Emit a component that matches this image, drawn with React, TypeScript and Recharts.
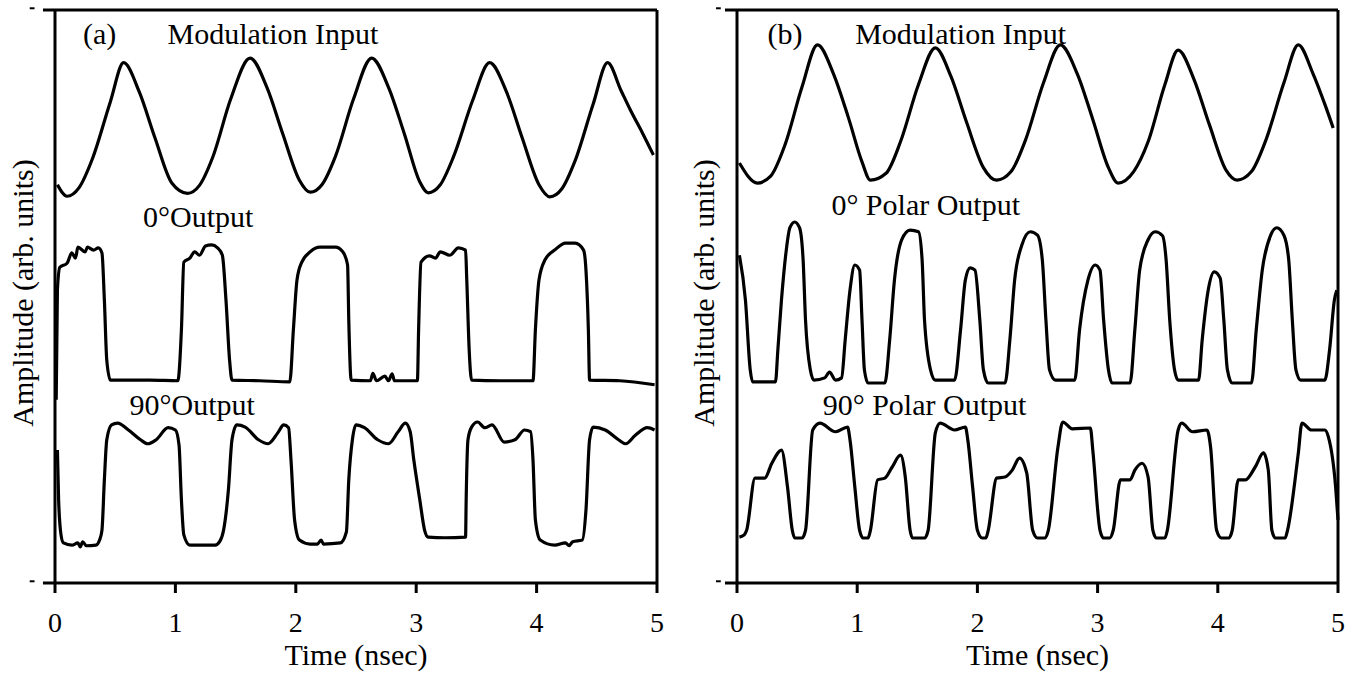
import React from "react";
import { LineChart, Line, XAxis, YAxis, ReferenceLine, ReferenceDot } from "recharts";

const FONT = '"Liberation Serif", "Times New Roman", Times, serif';

type Pair = [number, number];

// time axis (nsec)
const timeTicks = [0, 1, 2, 3, 4, 5];

// (a) traces: [time ns, amplitude arb. units]
const leftModulation: Pair[] = [
  [0.02, 69.5], [0.1, 67.5], [0.2, 69.0], [0.31, 74.0], [0.46, 84.0], [0.57, 90.8], [0.7, 85.7], [0.83, 77.7], [0.97, 69.8],
  [1.1, 68.0], [1.2, 69.4], [1.31, 74.3], [1.46, 84.5], [1.62, 91.6], [1.76, 86.5], [1.89, 78.5], [2.03, 70.3],
  [2.12, 68.2], [2.22, 69.6], [2.33, 74.5], [2.48, 84.5], [2.63, 91.6], [2.77, 86.5], [2.9, 78.5], [3.03, 70.0],
  [3.1, 68.1], [3.2, 69.5], [3.31, 74.4], [3.47, 84.3], [3.61, 90.8], [3.75, 85.7], [3.88, 77.7], [4.02, 69.5],
  [4.11, 67.4], [4.21, 68.8], [4.32, 73.7], [4.47, 83.6], [4.59, 90.8], [4.7, 86.0], [4.78, 82.5], [4.88, 78.5], [4.97, 74.7],
];

const left0Output: Pair[] = [
  [0.01, 32.0], [0.02, 51.1], [0.04, 55.1], [0.1, 55.8], [0.14, 57.6], [0.17, 56.7], [0.19, 58.6], [0.25, 57.8], [0.27, 58.6],
  [0.32, 58.1], [0.36, 58.5], [0.39, 57.6], [0.41, 49.4], [0.43, 38.9], [0.46, 35.4], [0.79, 35.4], [1.02, 35.3],
  [1.05, 44.2], [1.07, 56.0], [1.12, 56.7], [1.16, 57.8], [1.2, 57.2], [1.25, 58.8], [1.3, 59.0], [1.35, 58.5], [1.39, 57.2],
  [1.42, 49.4], [1.45, 38.9], [1.47, 35.4], [1.7, 35.3], [1.95, 35.1], [1.98, 44.2], [2.01, 52.9], [2.05, 56.0], [2.12, 57.8],
  [2.2, 58.6], [2.33, 58.6], [2.39, 57.8], [2.43, 55.5], [2.44, 45.9], [2.46, 35.4], [2.62, 35.3], [2.64, 36.6], [2.67, 35.3],
  [2.74, 36.1], [2.77, 35.3], [2.8, 36.5], [2.82, 35.3], [3.01, 35.3], [3.02, 44.2], [3.04, 56.0], [3.11, 57.1], [3.16, 56.7],
  [3.2, 57.8], [3.28, 57.2], [3.35, 58.5], [3.41, 58.1], [3.42, 52.9], [3.44, 40.7], [3.46, 35.4], [3.7, 35.3], [3.97, 35.3],
  [3.99, 44.2], [4.02, 52.9], [4.07, 56.4], [4.15, 58.1], [4.24, 59.3], [4.32, 59.3], [4.39, 58.1], [4.41, 54.6], [4.43, 44.2],
  [4.44, 35.4], [4.69, 35.3], [4.98, 34.6],
];

const left90Output: Pair[] = [
  [0.02, 23.2], [0.03, 14.5], [0.05, 8.4], [0.07, 7.0], [0.14, 6.6], [0.19, 7.0], [0.21, 6.3], [0.23, 7.2], [0.26, 6.5],
  [0.34, 6.6], [0.37, 7.5], [0.39, 9.2], [0.41, 18.0], [0.43, 25.0], [0.47, 27.6], [0.52, 27.9], [0.61, 26.7], [0.71, 25.0],
  [0.77, 24.3], [0.84, 25.0], [0.94, 27.1], [1.0, 26.7], [1.03, 24.1], [1.05, 14.5], [1.07, 8.4], [1.12, 6.6], [1.33, 6.6],
  [1.37, 7.3], [1.4, 9.2], [1.44, 16.2], [1.47, 25.0], [1.51, 27.6], [1.58, 27.2], [1.69, 25.0], [1.77, 24.3], [1.85, 26.2],
  [1.9, 27.6], [1.94, 27.1], [1.96, 21.5], [1.99, 11.0], [2.03, 7.5], [2.12, 6.8], [2.18, 6.8], [2.21, 7.5], [2.23, 6.8],
  [2.37, 7.0], [2.42, 8.9], [2.44, 18.0], [2.47, 25.0], [2.5, 27.6], [2.57, 27.1], [2.68, 25.0], [2.77, 24.3], [2.85, 26.4],
  [2.91, 27.9], [2.95, 26.4], [2.98, 21.5], [3.03, 14.5], [3.07, 9.2], [3.1, 8.0], [3.24, 7.9], [3.41, 8.0], [3.415, 14.5],
  [3.43, 25.0], [3.46, 27.2], [3.51, 28.1], [3.57, 27.1], [3.63, 27.6], [3.73, 24.6], [3.82, 25.0], [3.9, 26.7], [3.95, 26.4],
  [3.97, 21.5], [3.99, 11.0], [4.03, 7.5], [4.15, 6.6], [4.24, 7.0], [4.27, 6.5], [4.3, 7.2], [4.38, 7.5], [4.41, 12.7],
  [4.44, 25.0], [4.47, 27.2], [4.57, 26.7], [4.68, 25.0], [4.74, 24.3], [4.82, 25.8], [4.92, 27.1], [4.98, 26.7],
];

// (b) traces
const rightModulation: Pair[] = [
  [0.02, 73.3], [0.17, 69.8], [0.28, 71.0], [0.4, 76.5], [0.54, 86.5], [0.67, 93.9], [0.8, 89.0], [0.93, 81.0], [1.04, 73.5],
  [1.11, 70.3], [1.24, 71.5], [1.36, 77.0], [1.51, 87.0], [1.65, 93.4], [1.78, 88.4], [1.91, 80.4], [2.05, 72.5],
  [2.16, 70.3], [2.28, 71.8], [2.4, 77.3], [2.55, 87.3], [2.69, 93.9], [2.83, 88.9], [2.96, 80.9], [3.09, 72.5],
  [3.17, 69.8], [3.3, 71.8], [3.42, 77.0], [3.56, 87.0], [3.67, 93.0], [3.8, 88.0], [3.93, 80.0], [4.07, 72.0],
  [4.16, 70.3], [4.28, 71.8], [4.4, 77.3], [4.55, 87.3], [4.67, 93.9], [4.79, 89.0], [4.9, 83.0], [4.96, 79.4],
];

const right0Polar: Pair[] = [
  [0.02, 57.2], [0.07, 49.4], [0.11, 37.2], [0.13, 35.1], [0.32, 35.1], [0.34, 40.7], [0.37, 49.4], [0.41, 58.1], [0.44, 62.0],
  [0.48, 63.0], [0.52, 62.0], [0.55, 56.4], [0.57, 45.9], [0.61, 37.2], [0.64, 35.4], [0.73, 35.8], [0.77, 36.8], [0.82, 35.4],
  [0.87, 35.8], [0.9, 42.4], [0.94, 51.1], [0.98, 55.5], [1.02, 54.6], [1.04, 45.9], [1.06, 37.2], [1.09, 34.9], [1.23, 34.9],
  [1.27, 42.4], [1.31, 52.9], [1.37, 59.9], [1.44, 61.6], [1.51, 61.3], [1.54, 56.4], [1.56, 45.9], [1.61, 37.2], [1.65, 35.4],
  [1.81, 35.4], [1.86, 44.2], [1.9, 52.9], [1.94, 55.0], [1.98, 54.6], [2.02, 45.9], [2.05, 37.2], [2.09, 34.9], [2.23, 34.9],
  [2.27, 42.4], [2.31, 52.9], [2.37, 59.0], [2.44, 61.3], [2.5, 60.7], [2.54, 56.4], [2.57, 45.9], [2.6, 37.2], [2.65, 35.4],
  [2.81, 35.4], [2.85, 44.2], [2.92, 52.9], [2.98, 55.5], [3.02, 54.6], [3.05, 45.9], [3.09, 37.2], [3.12, 34.9], [3.27, 34.9],
  [3.31, 44.2], [3.35, 54.6], [3.42, 59.9], [3.48, 61.3], [3.54, 60.6], [3.57, 56.4], [3.6, 45.9], [3.64, 37.2], [3.67, 35.4],
  [3.84, 35.4], [3.87, 42.4], [3.92, 51.1], [3.97, 54.3], [4.02, 53.2], [4.05, 45.9], [4.08, 37.2], [4.12, 34.9], [4.28, 34.9],
  [4.32, 44.2], [4.37, 54.6], [4.44, 60.7], [4.49, 62.0], [4.55, 60.7], [4.59, 56.4], [4.62, 45.9], [4.65, 37.2], [4.69, 35.4],
  [4.89, 35.4], [4.93, 40.7], [4.97, 49.4], [4.99, 51.1],
];

const right90Polar: Pair[] = [
  [0.02, 8.0], [0.06, 8.4], [0.08, 9.2], [0.15, 18.3], [0.23, 18.3], [0.29, 20.9], [0.37, 23.2], [0.42, 16.8], [0.46, 9.2],
  [0.48, 7.85], [0.54, 7.85], [0.57, 9.2], [0.63, 26.7], [0.69, 27.9], [0.82, 26.4], [0.92, 27.2], [0.94, 25.0], [0.98, 16.8],
  [1.02, 9.2], [1.05, 7.85], [1.09, 7.85], [1.11, 9.2], [1.17, 18.0], [1.23, 18.3], [1.29, 20.2], [1.36, 22.3], [1.4, 18.5],
  [1.44, 9.2], [1.46, 7.85], [1.56, 7.85], [1.59, 9.2], [1.65, 26.2], [1.69, 27.9], [1.81, 26.7], [1.9, 27.2], [1.92, 25.0],
  [1.96, 16.8], [2.0, 9.2], [2.04, 7.85], [2.07, 7.85], [2.09, 9.2], [2.16, 18.3], [2.23, 18.5], [2.29, 19.7], [2.35, 21.8],
  [2.41, 19.2], [2.46, 9.2], [2.5, 7.85], [2.56, 7.85], [2.59, 9.2], [2.67, 23.7], [2.71, 28.1], [2.79, 26.9], [2.94, 27.05],
  [2.96, 23.2], [3.02, 9.2], [3.05, 7.85], [3.1, 7.85], [3.13, 9.2], [3.19, 18.0], [3.27, 18.0], [3.31, 19.7], [3.37, 20.9],
  [3.42, 18.5], [3.46, 9.2], [3.49, 7.85], [3.56, 7.85], [3.58, 9.2], [3.67, 26.7], [3.7, 27.9], [3.79, 26.4], [3.91, 26.7],
  [3.94, 23.7], [3.99, 9.2], [4.03, 7.85], [4.09, 7.85], [4.12, 9.2], [4.17, 18.0], [4.23, 18.0], [4.31, 20.2], [4.38, 22.7],
  [4.42, 19.7], [4.45, 9.2], [4.48, 7.85], [4.56, 7.85], [4.58, 9.2], [4.67, 22.7], [4.7, 27.9], [4.78, 26.7], [4.89, 26.7],
  [4.92, 25.5], [4.98, 16.8], [5.0, 11.0],
];

// annotation text with its anchor [time, amplitude]
const leftNotes: { text: string; at: Pair }[] = [
  { text: "(a)", at: [0.37, 96.0] },
  { text: "Modulation Input", at: [1.81, 96.0] },
  { text: "0°Output", at: [1.19, 64.0] },
  { text: "90°Output", at: [1.14, 31.1] },
];
const rightNotes: { text: string; at: Pair }[] = [
  { text: "(b)", at: [0.4, 96.0] },
  { text: "Modulation Input", at: [1.86, 96.0] },
  { text: "0° Polar Output", at: [1.57, 66.0] },
  { text: "90° Polar Output", at: [1.56, 31.1] },
];

const toPoints = (arr: Pair[]) => arr.map(([t, v]) => ({ t, v }));

interface PanelProps {
  left: number;
  width: number;
  marginLeft: number;
  marginRight: number;
  series: Pair[][];
  notes: { text: string; at: Pair }[];
  titleAt: number;
  dashFrom: number;
}

const Panel: React.FC<PanelProps> = ({ left, width, marginLeft, marginRight, series, notes, titleAt, dashFrom }) => {
  const frame = { stroke: "#000", strokeWidth: 3, ifOverflow: "visible" as const };
  return (
    <div style={{ position: "absolute", left, top: 0 }}>
      <LineChart width={width} height={673} margin={{ top: 10, right: marginRight, bottom: 6, left: marginLeft }}>
        <XAxis
          dataKey="t"
          type="number"
          domain={[0, 5]}
          ticks={timeTicks}
          axisLine={false}
          tickSize={10}
          tickMargin={19}
          height={84}
          tickLine={{ stroke: "#000", strokeWidth: 3 }}
          tick={{ fill: "#000", fontSize: 28, fontFamily: FONT }}
          label={{ value: "Time (nsec)", position: "insideBottom", offset: 2, fontSize: 30, fontFamily: FONT, fill: "#000" }}
        />
        <YAxis type="number" domain={[0, 100]} hide />
        <ReferenceLine {...frame} segment={[{ x: -0.1, y: 100 }, { x: 5, y: 100 }]} />
        <ReferenceLine {...frame} segment={[{ x: -0.1, y: 0 }, { x: 5, y: 0 }]} />
        <ReferenceLine {...frame} segment={[{ x: 0, y: 0 }, { x: 0, y: 100 }]} />
        <ReferenceLine {...frame} segment={[{ x: 5, y: 0 }, { x: 5, y: 100 }]} />
        <ReferenceLine {...frame} strokeWidth={2} segment={[{ x: dashFrom, y: 100.3 }, { x: dashFrom + 0.04, y: 100.3 }]} />
        <ReferenceLine {...frame} strokeWidth={2} segment={[{ x: dashFrom, y: 0.3 }, { x: dashFrom + 0.04, y: 0.3 }]} />
        {series.map((s, i) => (
          <Line
            key={i}
            data={toPoints(s)}
            dataKey="v"
            type="monotone"
            stroke="#000"
            strokeWidth={3.2}
            strokeLinejoin="round"
            dot={false}
            isAnimationActive={false}
          />
        ))}
        {notes.map((n) => (
          <ReferenceDot
            key={n.text}
            x={n.at[0]}
            y={n.at[1]}
            r={1}
            fill="none"
            stroke="none"
            ifOverflow="visible"
            label={{ value: n.text, position: "center", fontSize: 30, fontFamily: FONT, fill: "#000" }}
          />
        ))}
        <ReferenceDot
          x={titleAt}
          y={50.6}
          r={1}
          fill="none"
          stroke="none"
          ifOverflow="visible"
          label={{ value: "Amplitude (arb. units)", position: "center", angle: -90, fontSize: 30, fontFamily: FONT, fill: "#000" }}
        />
      </LineChart>
    </div>
  );
};

export default function App() {
  return (
    <div style={{ position: "absolute", left: 0, top: 0, width: 1354, height: 673, background: "#fff" }}>
      <Panel
        left={0}
        width={680}
        marginLeft={55}
        marginRight={23}
        series={[leftModulation, left0Output, left90Output]}
        notes={leftNotes}
        titleAt={-0.274}
        dashFrom={-0.21}
      />
      <Panel
        left={680}
        width={674}
        marginLeft={57}
        marginRight={16}
        series={[rightModulation, right0Polar, right90Polar]}
        notes={rightNotes}
        titleAt={-0.283}
        dashFrom={-0.175}
      />
    </div>
  );
}
